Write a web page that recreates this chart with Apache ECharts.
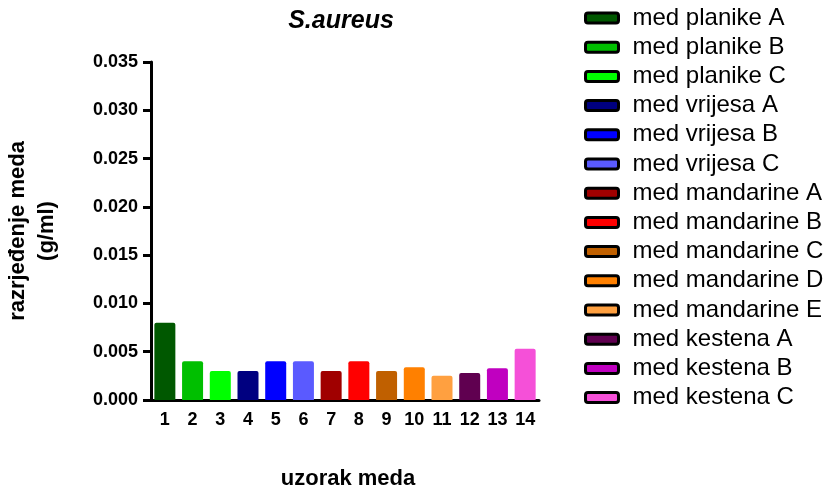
<!DOCTYPE html>
<html>
<head>
<meta charset="utf-8">
<script src="https://cdn.jsdelivr.net/npm/echarts@6/dist/echarts.min.js"></script>
<style>
    html, body { margin: 0; padding: 0; background: #fff; }
    #chart { width: 830px; height: 490px; }
</style>
</head>
<body>
<div id="chart"></div>
<script>
const categories = ["1", "2", "3", "4", "5", "6", "7", "8", "9", "10", "11", "12", "13", "14"];
const sampleNames = [
    "med planike A", "med planike B", "med planike C",
    "med vrijesa A", "med vrijesa B", "med vrijesa C",
    "med mandarine A", "med mandarine B", "med mandarine C", "med mandarine D", "med mandarine E",
    "med kestena A", "med kestena B", "med kestena C"
];
const dilution = [0.008, 0.004, 0.003, 0.003, 0.004, 0.004, 0.003, 0.004, 0.003, 0.0034, 0.0025, 0.0028, 0.0033, 0.0053];
const barColors = [
    "#005800", "#00bf00", "#00ff00",
    "#000080", "#0000ff", "#5a5aff",
    "#a00000", "#ff0000", "#c06000", "#ff8000", "#ffa040",
    "#600050", "#c000c0", "#f550d8"
];
const yTicks = { min: 0, max: 0.035, interval: 0.005 };

const font = "'Liberation Sans', Arial, sans-serif";

// one series per sample so every bar gets its own legend entry
const series = sampleNames.map((name, i) => ({
    name: name,
    type: "bar",
    stack: "all",
    barWidth: 21,
    itemStyle: { color: barColors[i], borderRadius: [2, 2, 0, 0] },
    data: categories.map((c, j) => (j === i ? dilution[i] : "-"))
}));

const chart = echarts.init(document.getElementById("chart"));
chart.setOption({
    animation: false,
    title: {
        text: "S.aureus",
        left: 336,
        textAlign: "center",
        top: 4,
        textStyle: { fontFamily: font, fontSize: 25, fontWeight: "bold", fontStyle: "italic", color: "#000" }
    },
    legend: {
        orient: "vertical",
        left: 579,
        top: 1,
        itemWidth: 33,
        itemHeight: 10,
        itemGap: 5.2,
        icon: "roundRect",
        itemStyle: { borderColor: "#000", borderWidth: 3 },
        textStyle: { fontFamily: font, fontSize: 24, lineHeight: 24, color: "#000", padding: [0, 0, 0, 9] },
        data: sampleNames
    },
    grid: { left: 151, right: 291, top: 62, bottom: 90, outerBoundsMode: "none", containLabel: false },
    xAxis: {
        type: "category",
        data: categories,
        name: "uzorak meda",
        nameLocation: "middle",
        nameGap: 68,
        nameTextStyle: { fontFamily: font, fontSize: 22, fontWeight: "bold", color: "#000", padding: [0, 0, 0, 6] },
        axisLine: { lineStyle: { color: "#000", width: 3 } },
        axisTick: { alignWithLabel: true, length: 7, lineStyle: { width: 3 } },
        axisLabel: { fontFamily: font, fontSize: 18, fontWeight: "bold", color: "#000", margin: 11 }
    },
    yAxis: {
        type: "value",
        min: yTicks.min,
        max: yTicks.max,
        interval: yTicks.interval,
        name: "razrjeđenje meda\n(g/ml)",
        nameLocation: "middle",
        nameGap: 90,
        nameTextStyle: { fontFamily: font, fontSize: 22, fontWeight: "bold", color: "#000", lineHeight: 29 },
        splitLine: { show: false },
        axisLine: { show: true, lineStyle: { color: "#000", width: 3 } },
        axisTick: { show: true, length: 8, lineStyle: { width: 3 } },
        axisLabel: {
            fontFamily: font, fontSize: 18, fontWeight: "bold", color: "#000", margin: 13,
            formatter: (v) => v.toFixed(3)
        }
    },
    series: series
});
</script>
</body>
</html>
